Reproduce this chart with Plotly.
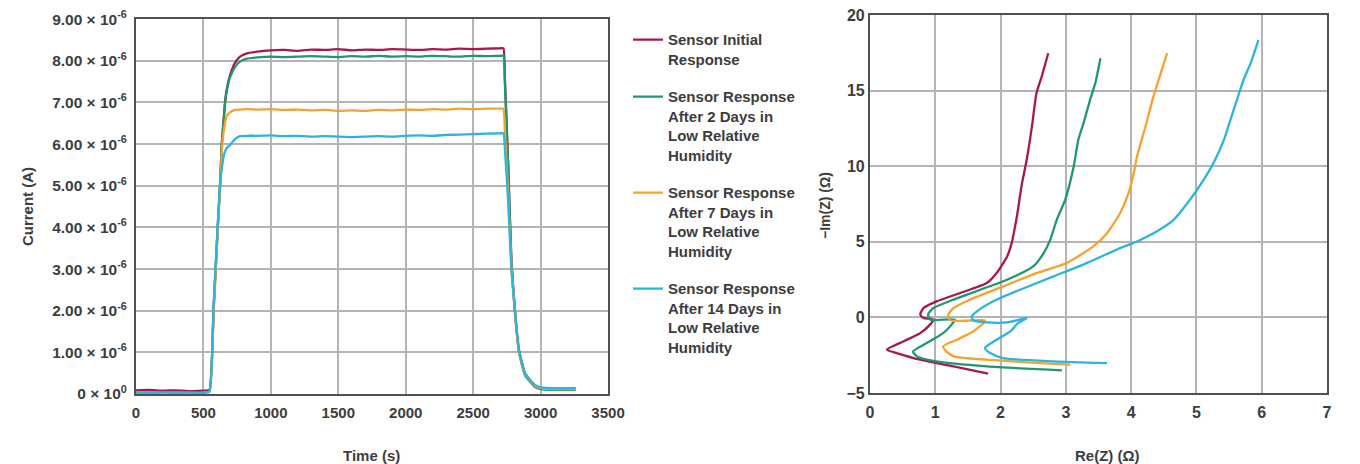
import plotly.graph_objects as go

# ---------------- Left chart: current vs time ----------------
time_s = [0, 100, 200, 300, 400, 500,
          545, 575, 608, 623, 636, 650, 660, 672, 697, 734, 771, 822,
          900, 1000, 1100, 1200, 1300, 1400, 1500, 1600, 1700, 1800, 1900, 2000,
          2100, 2200, 2300, 2400, 2500, 2600, 2700,
          2725, 2735, 2760, 2784, 2810, 2840, 2884, 2958, 3000, 3100, 3200, 3260]

# values in micro-amps (x 1e-6 A)
initial_uA = [0.09, 0.10, 0.08, 0.09, 0.07, 0.08,
              0.10, 2.0, 4.1, 5.0, 6.0, 6.6, 7.0, 7.3, 7.65, 7.95, 8.1, 8.18,
              8.22, 8.25, 8.26, 8.24, 8.27, 8.26, 8.28, 8.25, 8.27, 8.26, 8.28, 8.27,
              8.26, 8.28, 8.27, 8.29, 8.28, 8.29, 8.30,
              8.30, 7.6, 5.5, 3.2, 2.0, 1.05, 0.5, 0.2, 0.15, 0.13, 0.12, 0.12]
day2_uA = [0.03, 0.04, 0.03, 0.04, 0.03, 0.04,
           0.08, 2.0, 4.1, 5.0, 6.0, 6.55, 6.95, 7.25, 7.6, 7.85, 7.98, 8.05,
           8.08, 8.10, 8.09, 8.10, 8.11, 8.10, 8.09, 8.11, 8.10, 8.12, 8.10, 8.11,
           8.10, 8.12, 8.11, 8.10, 8.12, 8.11, 8.12,
           8.12, 7.5, 5.4, 3.1, 1.95, 1.0, 0.45, 0.17, 0.12, 0.10, 0.10, 0.10]
day7_uA = [0.02, 0.03, 0.02, 0.03, 0.02, 0.03,
           0.05, 1.9, 4.0, 4.9, 5.8, 6.3, 6.5, 6.67, 6.76, 6.82, 6.83, 6.84,
           6.83, 6.84, 6.82, 6.83, 6.81, 6.82, 6.80, 6.81, 6.80, 6.82, 6.81, 6.83,
           6.82, 6.84, 6.83, 6.85, 6.84, 6.85, 6.85,
           6.85, 6.3, 4.8, 3.0, 1.95, 1.0, 0.48, 0.2, 0.14, 0.12, 0.12, 0.12]
day14_uA = [0.04, 0.03, 0.04, 0.03, 0.04, 0.03,
            0.06, 2.1, 4.2, 5.0, 5.4, 5.7, 5.82, 5.9, 5.98, 6.12, 6.19, 6.20,
            6.20, 6.21, 6.19, 6.20, 6.18, 6.19, 6.18, 6.17, 6.18, 6.19, 6.18, 6.20,
            6.21, 6.20, 6.22, 6.23, 6.24, 6.25, 6.26,
            6.26, 5.9, 4.6, 3.0, 2.0, 1.05, 0.5, 0.22, 0.16, 0.14, 0.14, 0.15]

y_tick_vals = [0, 1e-6, 2e-6, 3e-6, 4e-6, 5e-6, 6e-6, 7e-6, 8e-6, 9e-6]
y_tick_text = ["0 × 10<sup>0</sup>", "1.00 × 10<sup>-6</sup>", "2.00 × 10<sup>-6</sup>",
               "3.00 × 10<sup>-6</sup>", "4.00 × 10<sup>-6</sup>", "5.00 × 10<sup>-6</sup>",
               "6.00 × 10<sup>-6</sup>", "7.00 × 10<sup>-6</sup>", "8.00 × 10<sup>-6</sup>",
               "9.00 × 10<sup>-6</sup>"]
x_tick_vals = [0, 500, 1000, 1500, 2000, 2500, 3000, 3500]

# ---------------- Right chart: impedance ----------------
re_initial = [1.81, 1.28, 0.77, 0.41, 0.26, 0.51, 0.77, 0.92, 0.97, 0.82, 0.77, 0.82, 1.02,
              1.38, 1.79, 1.94, 2.10, 2.17, 2.25, 2.32, 2.40, 2.48, 2.55, 2.63, 2.73]
im_initial = [-3.72, -3.24, -2.80, -2.36, -2.14, -1.59, -1.04, -0.48, -0.15, -0.04, 0.18, 0.62, 1.06,
              1.61, 2.27, 2.93, 4.03, 4.91, 6.67, 8.66, 10.42, 12.62, 14.82, 15.93, 17.47]

re_day2 = [2.94, 1.79, 1.02, 0.72, 0.66, 0.87, 1.12, 1.25, 1.30, 0.92, 0.89, 0.97, 1.28,
           1.69, 2.10, 2.50, 2.66, 2.76, 2.86, 2.99, 3.12, 3.19, 3.27, 3.37, 3.45, 3.53]
im_day2 = [-3.50, -3.24, -2.91, -2.58, -2.25, -1.70, -1.04, -0.48, -0.15, -0.15, 0.18, 0.62, 1.17,
           1.83, 2.49, 3.37, 4.25, 5.13, 6.45, 7.78, 9.98, 11.74, 12.84, 14.38, 15.48, 17.14]

re_day7 = [3.07, 1.79, 1.28, 1.17, 1.12, 1.33, 1.58, 1.74, 1.76, 1.23, 1.20, 1.28, 1.53,
           2.04, 2.55, 3.01, 3.42, 3.63, 3.83, 3.96, 4.04, 4.09, 4.22, 4.34, 4.42, 4.55]
im_day7 = [-3.13, -2.80, -2.58, -2.25, -1.92, -1.48, -0.93, -0.37, -0.20, -0.20, 0.18, 0.62, 1.17,
           2.05, 2.93, 3.59, 4.69, 5.57, 6.89, 8.22, 9.54, 10.64, 12.62, 14.60, 15.70, 17.47]

re_day14 = [3.63, 2.81, 2.04, 1.84, 1.76, 1.94, 2.15, 2.27, 2.40, 2.10, 1.79, 1.58, 1.56, 1.64,
            1.89, 2.30, 2.81, 3.32, 3.83, 4.09, 4.39, 4.65, 4.90, 5.11, 5.26, 5.42, 5.52,
            5.62, 5.72, 5.83, 5.95]
im_day14 = [-3.02, -2.91, -2.69, -2.36, -2.03, -1.48, -0.93, -0.37, -0.05, -0.33, -0.33, -0.20, 0.07,
            0.40, 1.06, 1.83, 2.71, 3.59, 4.58, 5.02, 5.68, 6.45, 7.78, 9.10, 10.20, 11.74,
            13.06, 14.38, 15.70, 16.81, 18.35]

names = ["Sensor Initial<br>Response",
         "Sensor Response<br>After 2 Days in<br>Low Relative<br>Humidity",
         "Sensor Response<br>After 7 Days in<br>Low Relative<br>Humidity",
         "Sensor Response<br>After 14 Days in<br>Low Relative<br>Humidity"]
colors = ["#a8184f", "#1f9870", "#f4a230", "#2bb4e0"]

currents = [initial_uA, day2_uA, day7_uA, day14_uA]
re_sets = [re_initial, re_day2, re_day7, re_day14]
im_sets = [im_initial, im_day2, im_day7, im_day14]

FONT = "Liberation Sans"
TXT = "#3d3d3d"
GRID = "#b4b4b4"
AX = "#505050"

fig = go.Figure()
for i in range(4):
    fig.add_trace(go.Scatter(
        x=time_s, y=[v * 1e-6 for v in currents[i]], mode="lines",
        name=names[i], legendgroup=f"g{i}",
        line=dict(color=colors[i], width=2.3, shape="spline", smoothing=0.4),
        xaxis="x", yaxis="y"))
for i in range(4):
    fig.add_trace(go.Scatter(
        x=re_sets[i], y=im_sets[i], mode="lines", showlegend=False,
        legendgroup=f"g{i}",
        line=dict(color=colors[i], width=2.3, shape="spline", smoothing=0.6),
        xaxis="x2", yaxis="y2"))


def tf(size):
    return dict(family=FONT, size=size, color=TXT, weight="bold")


axis_common = dict(showgrid=True, gridcolor=GRID, gridwidth=1.5, showline=True,
                   linecolor=AX, linewidth=2, mirror=True, ticks="", zeroline=False,
                   automargin=False, ticklabeloverflow="allow")

fig.update_layout(
    width=1360, height=464,
    margin=dict(l=0, r=0, t=0, b=0, autoexpand=False),
    paper_bgcolor="white", plot_bgcolor="white",
    font=dict(family=FONT, color=TXT),
    xaxis=dict(domain=[0.0941, 0.4412], range=[0, 3500], tickvals=x_tick_vals,
               anchor="y", tickfont=tf(15), ticklabelstandoff=4, **axis_common),
    yaxis=dict(domain=[0.168, 0.976], range=[0, 9e-6], tickvals=y_tick_vals,
               ticktext=y_tick_text, anchor="x", tickfont=tf(15.5),
               ticklabelstandoff=4, **axis_common),
    xaxis2=dict(domain=[0.6338, 0.9699], range=[0, 7], dtick=1, anchor="y2",
                tickfont=tf(16), ticklabelstandoff=4, **axis_common),
    yaxis2=dict(domain=[0.1703, 0.985], range=[-5, 20], dtick=5, anchor="x2",
                tickfont=tf(16), **axis_common),
    showlegend=True,
    legend=dict(x=0.4559, y=0.967, xanchor="left", yanchor="top",
                font=tf(15), valign="top", tracegroupgap=15,
                bgcolor="rgba(0,0,0,0)"),
    annotations=[
        dict(text="Current (A)", x=0.014, y=0.571, xref="paper", yref="paper",
             xanchor="center", yanchor="middle",
             textangle=-90, showarrow=False, font=tf(15)),
        dict(text="Time (s)", x=0.2676, y=0.0366, xref="paper", yref="paper",
             xanchor="center", yanchor="middle",
             showarrow=False, font=tf(15)),
        dict(text="Re(Z) (Ω)", x=0.8088, y=0.0366, xref="paper", yref="paper",
             xanchor="center", yanchor="middle",
             showarrow=False, font=tf(15)),
        dict(text="−Im(Z) (Ω)", x=0.6007, y=0.5754, xref="paper", yref="paper",
             xanchor="center", yanchor="middle",
             textangle=-90, showarrow=False, font=tf(14)),
    ],
)

fig.write_html("out.html")
